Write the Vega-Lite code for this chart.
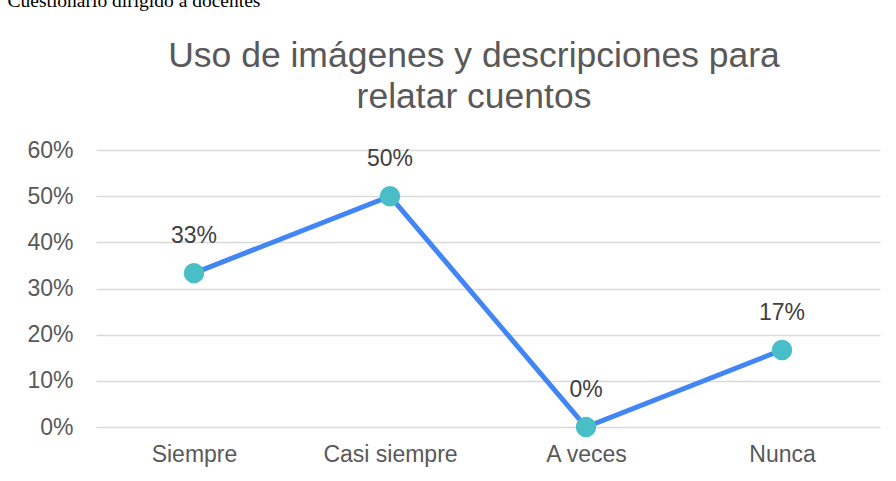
{
  "$schema": "https://vega.github.io/schema/vega-lite/v6.json",
  "autosize": "none",
  "width": 784,
  "height": 277,
  "padding": {"left": 96, "top": 150, "right": 16, "bottom": 54},
  "background": "white",
  "config": {"view": {"stroke": null}, "font": "Liberation Sans"},
  "title": {
    "text": ["Uso de imágenes y descripciones para", "relatar cuentos"],
    "fontSize": 35.5,
    "font": "Liberation Sans",
    "fontWeight": "normal",
    "color": "#595959",
    "lineHeight": 41,
    "anchor": "middle",
    "dx": -14,
    "offset": 0,
    "dy": 125
  },
  "data": {
    "values": [
      {"categoria": "Siempre", "valor": 0.3333},
      {"categoria": "Casi siempre", "valor": 0.5},
      {"categoria": "A veces", "valor": 0},
      {"categoria": "Nunca", "valor": 0.1667}
    ]
  },
  "encoding": {
    "x": {
      "field": "categoria",
      "type": "nominal",
      "sort": null,
      "scale": {"type": "point", "padding": 0.5},
      "axis": {
        "title": null,
        "labelAngle": 0,
        "labelFontSize": 23,
        "labelColor": "#595959",
        "labelPadding": 16,
        "ticks": false,
        "domain": false,
        "grid": false
      }
    },
    "y": {
      "field": "valor",
      "type": "quantitative",
      "scale": {"domain": [0, 0.6]},
      "axis": {
        "title": "Cuestionario dirigido a docentes",
        "titleAngle": 0,
        "titleAlign": "left",
        "titleBaseline": "alphabetic",
        "titleX": -89,
        "titleY": -144,
        "titleFont": "Liberation Serif",
        "titleFontSize": 19.5,
        "titleFontWeight": "normal",
        "titleColor": "#000000",
        "format": ".0%",
        "values": [0, 0.1, 0.2, 0.3, 0.4, 0.5, 0.6],
        "labelFontSize": 23,
        "labelColor": "#595959",
        "labelPadding": 23,
        "ticks": false,
        "domain": false,
        "grid": true,
        "gridColor": "#d9d9d9",
        "gridWidth": 1.5
      }
    }
  },
  "layer": [
    {"mark": {"type": "line", "color": "#4285F4", "strokeWidth": 5}},
    {"mark": {"type": "circle", "color": "#4ABEC6", "opacity": 1, "size": 420}},
    {
      "mark": {"type": "text", "dy": -37, "baseline": "middle", "fontSize": 23, "color": "#404040"},
      "encoding": {"text": {"field": "valor", "type": "quantitative", "format": ".0%"}}
    }
  ]
}
